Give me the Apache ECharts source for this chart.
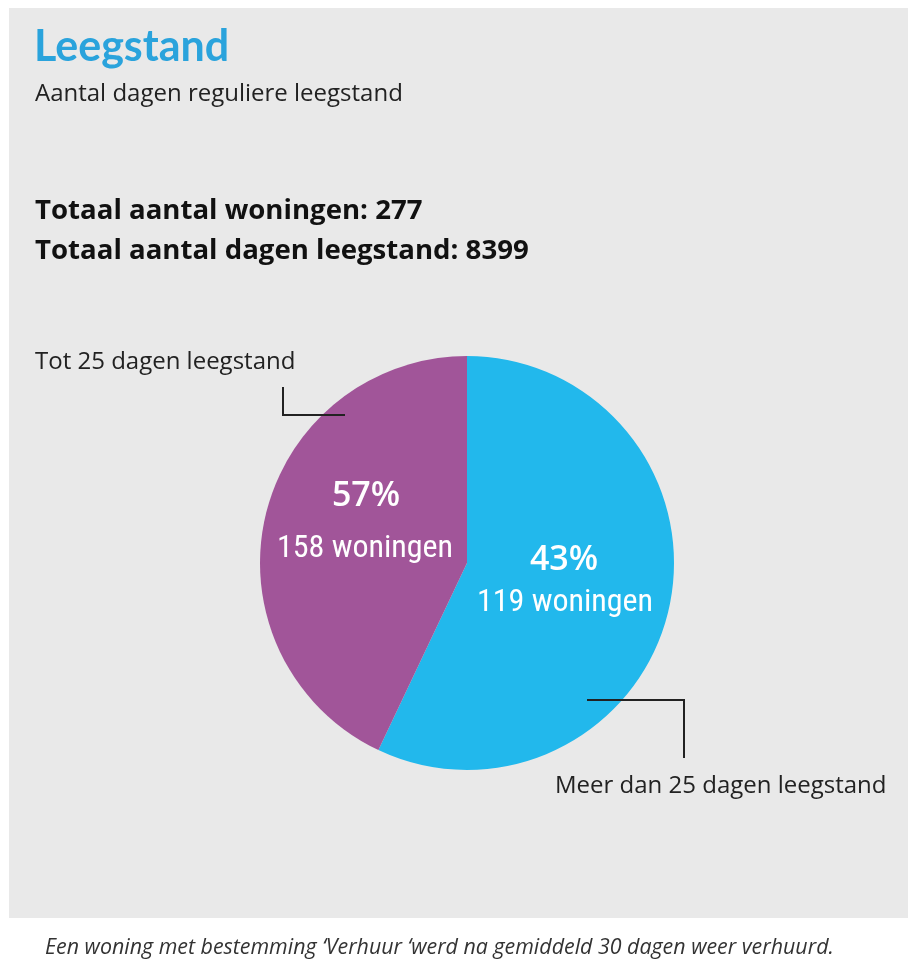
<!DOCTYPE html>
<html>
<head>
<meta charset="utf-8">
<script src="https://cdn.jsdelivr.net/npm/echarts@6/dist/echarts.min.js"></script>
<style>
html,body{margin:0;padding:0;background:#fff;}
#c{width:908px;height:968px;}
</style>
</head>
<body>
<div id="c"></div>
<script>
// Data (slice sizes as drawn in the picture; text as printed)
const categories = ['Meer dan 25 dagen leegstand', 'Tot 25 dagen leegstand'];
const sliceValues = [158, 119];
const sliceColors = ['#22b8ec', '#a15599'];
const percentLabels = ['43%', '57%'];
const countLabels = ['119 woningen', '158 woningen'];
const titleText = 'Leegstand';
const subtitleText = 'Aantal dagen reguliere leegstand';
const totals = ['Totaal aantal woningen: 277', 'Totaal aantal dagen leegstand: 8399'];
const captionText = 'Een woning met bestemming \u2018Verhuur \u2018werd na gemiddeld 30 dagen weer verhuurd.';

const chart = echarts.init(document.getElementById('c'), null, {renderer: 'canvas'});
const cond = '"Roboto Condensed", "Liberation Sans Narrow", Roboto, sans-serif';
const main = 'Lato, "Noto Sans", sans-serif';
const wide = '"Open Sans", "Noto Sans", sans-serif';

function txt(x, y, text, font, fill, align, z) {
  return {type: 'text', z: z || 10, x: x, y: y,
    style: {text: text, font: font, fill: fill, align: align || 'left', verticalAlign: 'middle'}};
}

const option = {
  backgroundColor: '#ffffff',
  animation: false,
  graphic: [
    {type: 'rect', z: -10, shape: {x: 9, y: 8, width: 899, height: 910}, style: {fill: '#e9e9e9'}},
    txt(34, 47, titleText, 'bold 43px ' + main, '#2aa3dc'),
    txt(35, 94, subtitleText, '24px ' + wide, '#222'),
    txt(35, 211, totals[0], 'bold 27.6px ' + wide, '#111'),
    txt(35, 251, totals[1], 'bold 27.6px ' + wide, '#111'),
    txt(35, 362, categories[1], '24px ' + wide, '#222'),
    txt(555, 786, categories[0], '24px ' + wide, '#222'),
    {type: 'polyline', z: 20, shape: {points: [[283, 387], [283, 415], [345, 415]]}, style: {stroke: '#222', lineWidth: 2, fill: null}},
    {type: 'polyline', z: 20, shape: {points: [[587, 700], [684, 700], [684, 758]]}, style: {stroke: '#222', lineWidth: 2, fill: null}},
    txt(366, 496, percentLabels[1], '600 34px ' + wide, '#fff', 'center', 20),
    txt(365, 549, countLabels[1], '32px ' + cond, '#fff', 'center', 20),
    txt(564, 560, percentLabels[0], '600 34px ' + wide, '#fff', 'center', 20),
    txt(565, 603, countLabels[0], '32px ' + cond, '#fff', 'center', 20),
    txt(45, 948, captionText, 'italic 21.4px ' + wide, '#333')
  ],
  series: [{
    type: 'pie',
    center: [467, 563],
    radius: [0, 207],
    startAngle: 90,
    clockwise: true,
    label: {show: false},
    labelLine: {show: false},
    emphasis: {disabled: true},
    itemStyle: {borderWidth: 0},
    data: categories.map((c, i) => ({name: c, value: sliceValues[i], itemStyle: {color: sliceColors[i]}}))
  }]
};
chart.setOption(option);
</script>
</body>
</html>
